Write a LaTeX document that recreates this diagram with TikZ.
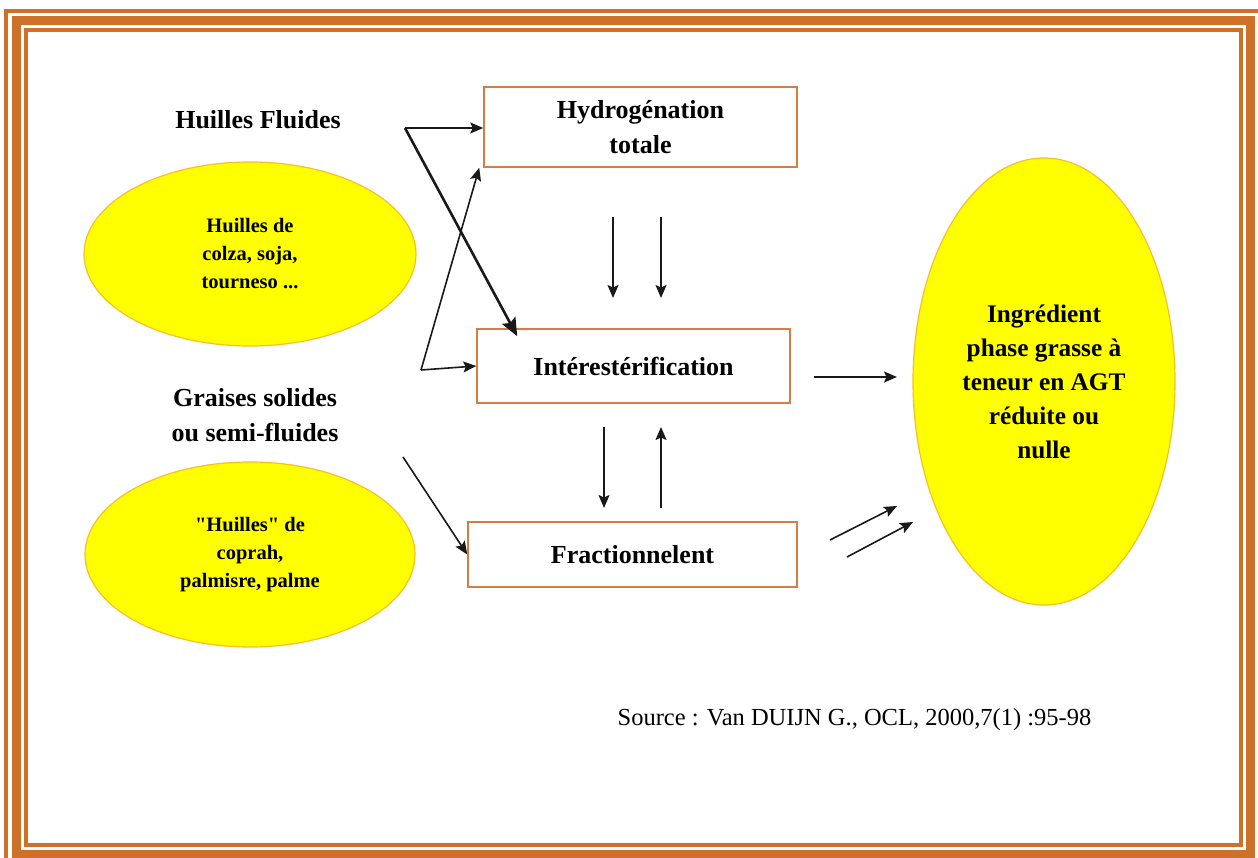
\documentclass[tikz,border=0pt]{standalone}
\usepackage{fontspec}
\setmainfont{Liberation Serif}[Ligatures=TeXOff]
\usetikzlibrary{shapes.geometric,arrows.meta}
\definecolor{framec}{RGB}{205,113,41}
\definecolor{boxline}{RGB}{214,124,68}
\definecolor{ellfill}{RGB}{255,255,0}
\definecolor{ellline}{RGB}{250,190,40}
\definecolor{ink}{RGB}{25,25,25}
\begin{document}
\begin{tikzpicture}[x=1pt,y=-1pt,
  procbox/.style={draw=boxline,line width=1.5pt,fill=white,inner sep=0pt,align=center,font=\bfseries\fontsize{26}{35}\selectfont},
  srcell/.style={ellipse,draw=ellline,line width=1.2pt,fill=ellfill,inner sep=0pt,align=center,font=\bfseries\fontsize{20.5}{28}\selectfont},
  head/.style={align=center,font=\bfseries\fontsize{26}{35}\selectfont,inner sep=0pt},
  arr/.style={draw=ink,line width=1.6pt,-{Stealth[length=13pt,width=11pt,inset=2.5pt]}},
  bigarr/.style={draw=ink,line width=2.6pt,-{Stealth[length=18pt,width=15pt,inset=3pt]}}]
\useasboundingbox (0,0) rectangle (1258,858);
\clip (0,0) rectangle (1258,858);
\fill[white] (0,0) rectangle (1258,858);
% frame
\draw[framec,line width=3.5pt] (5.8,10.8) rectangle (1262,867);
\draw[framec,line width=9pt] (16.5,20.5) rectangle (1250.3,854.5);
\draw[framec,line width=4pt] (26,30) rectangle (1241,844.5);
% process boxes
\node[procbox,minimum width=313pt,minimum height=80pt] (hyd) at (640.5,127) {Hydrogénation\\totale};
\node[procbox,minimum width=313pt,minimum height=74pt] (int) at (633.5,366) {Intérestérification};
\node[procbox,minimum width=329pt,minimum height=65pt] (fra) at (632.5,554.5) {Fractionnelent};
% ellipses
\node[srcell,minimum width=332pt,minimum height=184pt] (e1) at (250,254) {Huilles de\\colza, soja,\\tourneso ...};
\node[srcell,minimum width=330pt,minimum height=185pt] (e2) at (250,554.5) {"Huilles" de\\coprah,\\palmisre, palme};
\node[srcell,font=\bfseries\fontsize{25.3}{34}\selectfont,minimum width=262pt,minimum height=447pt] (e3) at (1044,381.5) {Ingrédient\\phase grasse à\\teneur en AGT\\réduite ou\\nulle};
% headings
\node[head] (hf) at (258,120) {Huilles Fluides};
\node[head] (gs) at (255,415.5) {Graises solides\\ou semi-fluides};
\node[font=\fontsize{24.5}{30}\selectfont,inner sep=0pt] (src) at (854.5,720) {Source : Van DUIJN G., OCL, 2000,7(1) :95-98};
% connector points
\coordinate (hfo) at (405,128);
\coordinate (gso) at (421,370);
\coordinate (gsa) at (403,457);
\coordinate (v1a) at (613,217);
\coordinate (v1b) at (613,298);
\coordinate (v2a) at (661,217);
\coordinate (v2b) at (661,298);
\coordinate (v3a) at (604,427);
\coordinate (v3b) at (604,508);
\coordinate (v4a) at (661,508);
\coordinate (v4b) at (661,427);
\coordinate (ra) at (814,377);
\coordinate (rb) at (897,377);
\coordinate (d1a) at (830,540);
\coordinate (d1b) at (897,506);
\coordinate (d2a) at (847,557);
\coordinate (d2b) at (913,522);
% connectors
\draw[arr] (hfo) -- (hyd.west |- hfo);
\draw[bigarr] (hfo) -- ([xshift=41pt,yshift=-8pt]int.north west);
\draw[arr] (gso) -- ([xshift=-4pt]hyd.south west);
\draw[arr] (gso) -- (int.west);
\draw[arr] (gsa) -- (fra.west);
\draw[arr] (v1a) -- (v1b);
\draw[arr] (v2a) -- (v2b);
\draw[arr] (v3a) -- (v3b);
\draw[arr] (v4a) -- (v4b);
\draw[arr] (ra) -- (rb);
\draw[arr] (d1a) -- (d1b);
\draw[arr] (d2a) -- (d2b);
\end{tikzpicture}
\end{document}
